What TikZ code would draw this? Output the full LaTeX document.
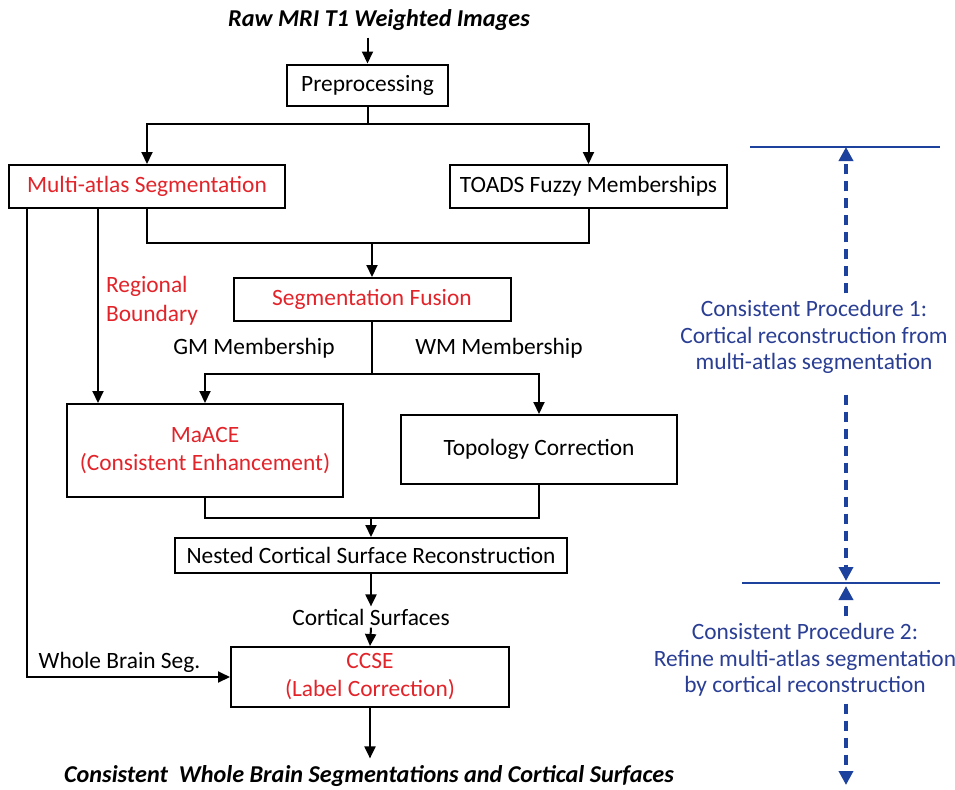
\documentclass[tikz,border=0pt]{standalone}
\usepackage{fontspec}
\setmainfont{Carlito}
\usetikzlibrary{arrows.meta, calc}

\definecolor{redtext}{RGB}{226,36,42}
\definecolor{bluetext}{RGB}{42,62,148}
\definecolor{blueline}{RGB}{28,66,158}

\begin{document}
\begin{tikzpicture}[x=0.5pt, y=-0.5pt, font=\fontsize{11.7}{14}\selectfont,
	box/.style={draw, rectangle, line width=1pt, inner sep=2pt, text centered},
	flow/.style={line width=1pt, -{Triangle[length=6pt, width=5.5pt]}},
	link/.style={line width=1pt},
	bound/.style={draw=blueline, line width=1pt},
	dasharrow/.style={draw=blueline, line width=2pt, dash pattern=on 5pt off 3.5pt, 
	-{Triangle[length=7pt, width=7pt]}}]
		\useasboundingbox (0,0) rectangle (955,789);
		
		\node (Title) at (379,20) [font=\fontsize{12.1}{14}\selectfont\bfseries\itshape]{Raw MRI T1 Weighted Images};
		\node (Preprocessing) at (367.5,85) [box, minimum height=20.5pt, minimum width=80.5pt]{Preprocessing};
		\node (Multi Atlas) at (147,186.5) [box, minimum height=21.5pt, minimum width=138pt, 
		text=redtext]{Multi-atlas Segmentation};
		\node (TOADS) at (588.5,186.5) [box, minimum height=21.5pt, minimum width=138.5pt]{TOADS Fuzzy Memberships};
		\node (Segmentation Fusion) at (372,299.5) [box, minimum height=21.5pt, minimum width=138.5pt, 
		text=redtext]{Segmentation Fusion};
		\node (MaACE) at (205,450.5) [box, minimum height=46.5pt, minimum width=138pt, align=center, 
		text=redtext]{MaACE\\(Consistent Enhancement)};
		\node (Topology Correction) at (539,449.5) [box, minimum height=34.5pt, minimum width=138pt]{Topology Correction};
		\node (Nested Reconstruction) at (371,555.5) [box, minimum height=17.5pt, 
		minimum width=196pt]{Nested Cortical Surface Reconstruction};
		\node (CCSE) at (370,677) [box, minimum height=30pt, minimum width=139pt, align=center, 
		text=redtext]{CCSE\\(Label Correction)};
		\node (Result) at (369,776) [font=\fontsize{12.1}{14}\selectfont\bfseries\itshape]{Consistent\ \ Whole Brain Segmentations and Cortical Surfaces};
		
		% labels on the connectors
		\node (Regional) at (99,300.5) [anchor=west, align=left, text=redtext, 
		font=\fontsize{11.7}{14.5}\selectfont]{Regional\\Boundary};
		\node (GM) at (254,348) {GM Membership};
		\node (WM) at (499,348) {WM Membership};
		\node (Whole Seg) at (119.5,662) {Whole Brain Seg.};
		\node (Surfaces) at (371,617) [inner sep=1pt]{Cortical Surfaces};
		
		\coordinate (Split1) at (367.5,124);
		\coordinate (Merge1) at (372,243);
		\coordinate (Split2) at (372,374);
		\coordinate (Merge2) at (371,518);
		
		\draw[flow] (Title.south -| Preprocessing.north) -- (Preprocessing.north);
		\draw[link] (Preprocessing.south) -- (Split1);
		\draw[flow] (Split1) -| (Multi Atlas.north);
		\draw[flow] (Split1) -| (TOADS.north);
		\draw[link] (Multi Atlas.south) |- (Merge1) -| (TOADS.south);
		\draw[flow] (Merge1) -- (Segmentation Fusion.north);
		\draw[flow] (98,0 |- Multi Atlas.south) -- (98,0 |- MaACE.north);
		\draw[flow] (27,0 |- Multi Atlas.south) |- (CCSE.west);
		\draw[link] (Segmentation Fusion.south) -- (Split2);
		\draw[flow] (Split2) -| (MaACE.north);
		\draw[flow] (Split2) -| (Topology Correction.north);
		\draw[link] (MaACE.south) |- (Merge2) -| (Topology Correction.south);
		\draw[flow] (Merge2) -- (Nested Reconstruction.north);
		\draw[flow] (Nested Reconstruction.south) -- (Surfaces.north);
		\draw[flow] (Surfaces.south) -- (CCSE.north);
		\draw[flow] (CCSE.south) -- (CCSE.south |- Result.north);
		
		% the two consistent procedures
		\coordinate (Bound1 Mid) at (846,147);
		\coordinate (Bound2 Mid) at (846,583);
		\coordinate (Bound End) at (846,785);
		\draw[bound] (750,147) -- (940,147);
		\draw[bound] (742,583) -- (940,583);
		\node (Procedure1) at (814,337) [text=bluetext, align=center, 
		font=\fontsize{11.7}{13.25}\selectfont]{Consistent Procedure 1:\\Cortical reconstruction from\\multi-atlas segmentation};
		\node (Procedure2) at (805,660) [text=bluetext, align=center, 
		font=\fontsize{11.7}{13.25}\selectfont]{Consistent Procedure 2:\\Refine multi-atlas segmentation\\by cortical reconstruction};
		\draw[dasharrow] (Procedure1.north -| Bound1 Mid) -- (Bound1 Mid);
		\draw[dasharrow, shorten <=7pt] (Procedure1.south -| Bound1 Mid) -- ([yshift=1pt]Bound2 Mid);
		\draw[dasharrow] (Procedure2.north -| Bound2 Mid) -- ([yshift=-1.5pt]Bound2 Mid);
		\draw[dasharrow] (Procedure2.south -| Bound2 Mid) -- (Bound End);
\end{tikzpicture}
\end{document}
